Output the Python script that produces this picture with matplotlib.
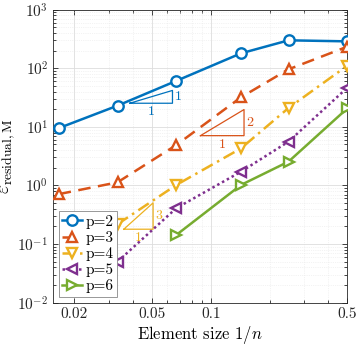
import numpy as np
import matplotlib
matplotlib.use("Agg")
import matplotlib.pyplot as plt
from matplotlib.ticker import LogLocator, FixedLocator, FixedFormatter, NullFormatter

plt.rcParams['font.family'] = ['cmr10', 'DejaVu Serif']
plt.rcParams['mathtext.fontset'] = 'cm'
plt.rcParams['axes.unicode_minus'] = False
plt.rcParams['axes.formatter.use_mathtext'] = True

# ---------------- data ----------------
h = [1/60, 1/30, 1/15, 1/7, 1/4, 1/2]
err_p2 = [9.5, 23, 61, 180, 300, 288]
err_p3 = [0.71, 1.13, 4.9, 32, 96, 234]
err_p4 = [0.218, 1.02, 4.3, 21, 111]
err_p5 = [0.050, 0.41, 1.72, 5.6, 46.7]
err_p6 = [0.143, 1.02, 2.55, 20.7]
labels = ['p=2', 'p=3', 'p=4', 'p=5', 'p=6']
xtick_vals = [0.02, 0.05, 0.1, 0.5]
xtick_labels = ['0.02', '0.05', '0.1', '0.5']

colors = ['#0072BD', '#D95319', '#EDB120', '#7E2F8E', '#77AC30']
markers = ['o', '^', 'v', '<', '>']
styles = ['-', (0, (5, 3)), (0, (5, 2, 1, 2)), (0, (1, 1.2)), '-']

# slope triangles: (x_left, x_right, y_bottom, slope, color)
slope_tris = [
    (0.0385, 0.0637, 25.3, 1, colors[0]),
    (0.0886, 0.148, 7.08, 2, colors[1]),
    (0.0359, 0.0507, 0.179, 3, colors[2]),
]

fig = plt.figure(figsize=(3.57, 3.46), dpi=100)
ax = fig.add_axes([0.149, 0.1254, 0.824, 0.8466])

series = [err_p2, err_p3, err_p4, err_p5, err_p6]
for i, (ys, lab) in enumerate(zip(series, labels)):
    xs = h[len(h) - len(ys):]
    ax.plot(xs, ys, linestyle=styles[i], color=colors[i], lw=1.8,
            marker=markers[i], ms=7.5, mew=1.7, mfc='white', mec=colors[i],
            label=lab, zorder=3)

for (x0, x1, y0, s, c) in slope_tris:
    y1 = y0 * (x1 / x0) ** s
    ax.plot([x0, x1, x1, x0], [y0, y0, y1, y0], color=c, lw=0.9, zorder=2)
    xm = np.sqrt(x0 * x1)
    ax.text(xm, y0 / 1.12, '1', color=c, ha='center', va='top', fontsize=10)
    ym = np.sqrt(y0 * y1)
    ax.text(x1 * 1.03, ym, str(s), color=c, ha='left', va='center', fontsize=10)

ax.set_xscale('log')
ax.set_yscale('log')
ax.set_xlim(1/64, 1/2)
ax.set_ylim(1e-2, 1e3)

ax.xaxis.set_major_locator(FixedLocator(xtick_vals))
ax.xaxis.set_major_formatter(FixedFormatter(xtick_labels))
ax.xaxis.set_minor_locator(LogLocator(base=10, subs=np.arange(2, 10) * 1.0, numticks=20))
ax.xaxis.set_minor_formatter(NullFormatter())
ax.yaxis.set_major_locator(LogLocator(base=10, numticks=10))
ax.yaxis.set_minor_locator(LogLocator(base=10, subs=np.arange(2, 10) * 1.0, numticks=20))
ax.yaxis.set_minor_formatter(NullFormatter())

ax.tick_params(which='both', direction='in', top=True, right=True, colors='#262626',
               labelsize=11, width=0.6)
ax.tick_params(which='major', length=3.5)
ax.tick_params(which='minor', length=2)
for sp in ax.spines.values():
    sp.set_color('#262626')
    sp.set_linewidth(0.6)

ax.grid(True, which='major', color='#dddddd', lw=0.6, ls='-')
ax.grid(True, which='minor', color='#e8e8e8', lw=0.5, ls=':')
ax.set_axisbelow(True)

ax.set_xlabel('Element size $1/n$', fontsize=12, labelpad=2)
ax.set_ylabel(r'$\varepsilon_{\mathrm{residual,M}}$', fontsize=14, labelpad=0)

leg = ax.legend(loc='lower left', fontsize=11, frameon=True, fancybox=False,
                edgecolor='#888888', framealpha=1, borderaxespad=0.35,
                handlelength=1.3, handletextpad=0.2, labelspacing=0.15,
                borderpad=0.25)
leg.get_frame().set_linewidth(0.6)

fig.savefig('out.png', dpi=100)
